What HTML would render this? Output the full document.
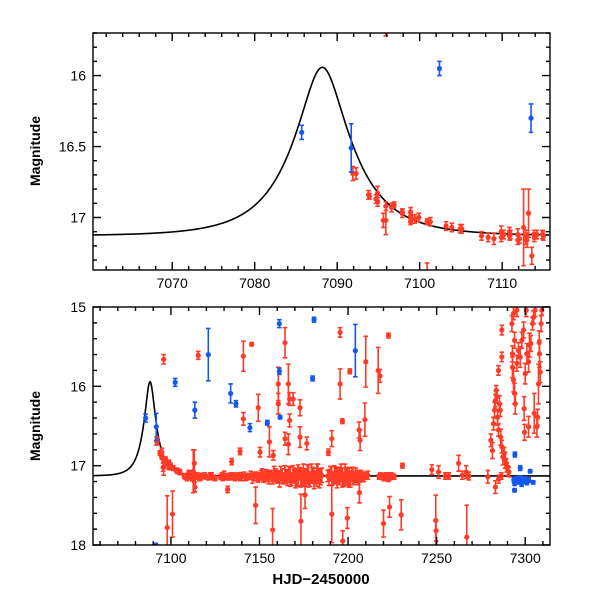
<!DOCTYPE html>
<html><head><meta charset="utf-8"><style>
body{margin:0;background:#fff}
svg text{font-family:"Liberation Sans",sans-serif;font-size:14px;fill:#000}
</style></head><body>
<svg id="chart" width="600" height="600" viewBox="0 0 600 600" xmlns="http://www.w3.org/2000/svg">
<defs>
<clipPath id="clipTop"><rect x="93" y="33" width="457" height="237"/></clipPath>
<clipPath id="clipBot"><rect x="93" y="307" width="457" height="238"/></clipPath>
</defs>
<g id="top"></g>
<g id="bot"></g>
<text transform="translate(40,151) rotate(-90)" text-anchor="middle" style="font-weight:bold">Magnitude</text>
<text transform="translate(40,426) rotate(-90)" text-anchor="middle" style="font-weight:bold">Magnitude</text>
<text x="321" y="584" text-anchor="middle" style="font-size:15px;font-weight:bold">HJD−2450000</text>
</svg>
<script>
// model parameters (Paczynski)
const modelT0 = 7088.2, modelU0 = 0.35, modelTE = 7.0, modelBase = 17.13;
// tick labels
const topXTicks = [7070, 7080, 7090, 7100, 7110];
const topYTicks = [16, 16.5, 17];
const botXTicks = [7100, 7150, 7200, 7250, 7300];
const botYTicks = [15, 16, 17, 18];
// red observations [HJD, mag, err]
const redObs = [
[7091.9,16.69,0.05],[7093.9,16.85,0.02],[7094.9,16.83,0.05],[7094.9,16.89,0.03],[7095.9,16.92,0.03],[7095.9,17.02,0.10],
[7096.9,16.91,0.02],[7097.9,16.96,0.02],[7098.9,16.96,0.03],[7098.9,16.99,0.02],[7098.9,17.03,0.02],[7099.9,17.00,0.03],
[7100.9,17.03,0.02],[7103.9,17.07,0.03],[7104.9,17.08,0.03],[7109.9,17.10,0.04],[7109.9,17.14,0.03],[7110.9,17.10,0.03],
[7110.9,17.13,0.03],[7111.9,17.12,0.04],[7111.9,17.16,0.03],[7112.6,17.07,0.27],[7112.9,17.13,0.04],[7112.9,17.16,0.03],
[7113.9,17.12,0.03],[7113.9,17.14,0.03],[7114.9,17.12,0.03],[7095.9,15.66,0.06],[7097.9,17.78,0.40],[7100.9,17.61,0.29],
[7115.4,15.61,0.05],[7140.9,15.62,0.19],[7145.6,15.47,0.02],[7164.4,15.45,0.19],[7195.5,15.32,0.06],[7222.8,15.36,0.03],
[7201.0,15.81,0.03],[7195.5,15.97,0.19],[7210.0,15.69,0.32],[7217.0,15.80,0.29],[7218.0,15.87,0.08],[7160.6,15.97,0.21],
[7166.3,15.97,0.25],[7167.0,16.16,0.08],[7169.0,16.16,0.08],[7172.9,16.27,0.10],[7149.3,16.27,0.17],[7140.9,16.41,0.08],
[7160.6,16.22,0.13],[7167.0,16.43,0.08],[7164.4,16.66,0.08],[7166.3,16.73,0.13],[7172.9,16.64,0.13],[7155.6,16.70,0.19],
[7176.7,16.72,0.08],[7190.8,16.66,0.10],[7196.8,16.44,0.03],[7206.2,16.55,0.10],[7206.8,16.68,0.13],[7209.5,16.42,0.21],
[7188.9,16.83,0.04],[7139.0,16.82,0.04],[7150.3,16.83,0.06],[7157.8,16.87,0.06],[7134.3,16.95,0.04],[7113.2,16.97,0.17],
[7230.7,17.00,0.03],[7247.3,17.05,0.06],[7262.4,16.97,0.10],[7266.7,17.08,0.08],[7251.1,17.08,0.08],[7254.9,17.13,0.04],
[7113.6,17.27,0.06],[7132.0,17.30,0.04],[7147.8,17.50,0.23],[7157.4,17.81,0.27],[7173.4,17.70,0.34],[7175.7,17.37,0.17],
[7190.8,17.61,0.36],[7197.0,17.95,0.13],[7199.6,17.66,0.13],[7206.4,17.34,0.13],[7220.0,17.73,0.17],[7223.4,17.52,0.13],
[7230.0,17.62,0.19],[7249.5,17.69,0.32],[7249.7,17.82,0.13],[7267.0,17.90,0.40],[7283.2,17.27,0.08],[7278.9,17.14,0.08],
[7092.3,16.69,0.04],[7093.8,16.84,0.03],[7094.7,16.87,0.03],[7095.6,17.02,0.05],[7096.6,16.93,0.03],[7097.9,16.97,0.03],
[7099.4,17.01,0.03],[7101.3,17.03,0.03],[7103.2,17.06,0.03],[7105.1,17.08,0.03],
[7107.5,17.13,0.03],[7109.0,17.15,0.04],[7111.0,17.12,0.03],[7113.0,17.16,0.05],[7115.0,17.13,0.03],[7117.0,17.14,0.04],
[7119.0,17.12,0.03],[7121.0,17.15,0.03],[7123.0,17.13,0.04],[7125.0,17.16,0.03],[7128.0,17.14,0.03],[7130.0,17.12,0.05],
[7132.0,17.15,0.03],[7134.0,17.13,0.04],[7136.0,17.16,0.03],[7138.0,17.12,0.03],[7140.0,17.14,0.05],[7142.0,17.15,0.04],
[7144.0,17.13,0.03],[7146.0,17.16,0.06],[7148.0,17.12,0.04],[7150.0,17.14,0.05],[7151.5,17.10,0.06],[7153.0,17.16,0.04],
[7154.5,17.13,0.07],[7156.0,17.11,0.05],[7157.5,17.17,0.06],[7159.0,17.12,0.08],[7160.5,17.15,0.06],[7162.0,17.10,0.09],
[7163.5,17.16,0.07],[7165.0,17.13,0.08],[7166.5,17.11,0.10],[7168.0,17.17,0.08],[7169.5,17.12,0.09],[7171.0,17.15,0.11],
[7172.5,17.10,0.08],[7174.0,17.16,0.10],[7175.5,17.13,0.09],[7177.0,17.11,0.12],[7178.5,17.17,0.09],[7180.0,17.12,0.10],
[7181.5,17.15,0.08],[7183.0,17.10,0.12],[7184.5,17.14,0.10],[7188.5,17.13,0.07],[7190.0,17.10,0.09],[7191.5,17.16,0.08],
[7193.0,17.12,0.10],[7194.5,17.15,0.09],[7196.0,17.09,0.11],[7197.5,17.17,0.09],[7199.0,17.12,0.10],[7200.5,17.15,0.12],
[7202.0,17.11,0.09],[7203.5,17.16,0.08],[7205.0,17.13,0.07],[7206.5,17.12,0.06],[7208.0,17.15,0.05],[7210.5,17.13,0.04],
[7217.5,17.14,0.03],[7219.0,17.13,0.03],[7220.5,17.15,0.04],[7222.0,17.12,0.03],[7223.5,17.14,0.04],[7225.0,17.13,0.03],
[7108.3,17.14,0.03],[7110.2,17.12,0.03],[7112.1,17.15,0.03],[7114.2,17.12,0.03],[7116.1,17.16,0.03],[7118.2,17.13,0.03],
[7120.1,17.14,0.03],[7122.2,17.12,0.03],[7124.1,17.15,0.03],[7128.9,17.13,0.04],[7129.2,17.16,0.03],[7131.1,17.13,0.03],
[7133.1,17.14,0.04],[7135.2,17.12,0.03],[7137.1,17.14,0.04],[7139.1,17.16,0.03],[7141.1,17.12,0.04],[7143.1,17.14,0.04],
[7145.1,17.12,0.05],[7147.1,17.14,0.05],[7149.1,17.16,0.05],[7150.8,17.12,0.06],[7152.3,17.14,0.07],[7153.8,17.11,0.06],
[7155.3,17.15,0.08],[7156.8,17.13,0.07],[7158.3,17.10,0.09],[7159.8,17.14,0.08],[7161.3,17.17,0.10],[7162.8,17.13,0.09],
[7164.3,17.11,0.11],[7165.8,17.15,0.10],[7167.3,17.14,0.12],[7168.8,17.11,0.11],[7170.3,17.16,0.12],[7171.8,17.12,0.13],
[7173.3,17.15,0.12],[7174.8,17.11,0.13],[7176.3,17.15,0.11],[7177.8,17.13,0.14],[7179.3,17.10,0.12],[7180.8,17.16,0.13],
[7182.3,17.12,0.14],[7183.8,17.16,0.12],[7185.2,17.12,0.09],[7189.2,17.15,0.10],[7190.8,17.13,0.12],[7192.3,17.11,0.11],
[7193.8,17.16,0.12],[7195.3,17.13,0.11],[7196.8,17.15,0.12],[7198.3,17.11,0.13],[7199.8,17.14,0.11],[7201.3,17.17,0.10],
[7202.8,17.13,0.11],[7204.3,17.12,0.09],[7205.8,17.16,0.08],[7207.3,17.13,0.07],[7209.0,17.14,0.06],[7211.2,17.12,0.05],
[7218.2,17.12,0.03],[7219.8,17.15,0.03],[7221.3,17.13,0.04],[7222.8,17.16,0.04],[7224.3,17.12,0.03],[7226.0,17.14,0.03],
[7256.8,17.13,0.04],[7264.5,17.12,0.05],[7268.2,17.13,0.05],[7285.0,17.17,0.05],[7286.5,17.13,0.04],
[7280.6,16.68,0.08],[7281.5,16.81,0.10],[7282.1,16.47,0.08],[7282.7,16.30,0.10],[7283.2,16.18,0.08],[7283.6,16.05,0.06],
[7284.0,16.13,0.08],[7284.4,16.39,0.10],[7284.9,16.55,0.08],[7285.5,16.22,0.10],[7285.9,16.30,0.08],[7286.2,16.64,0.10],
[7286.8,16.76,0.08],[7287.4,16.89,0.10],[7288.1,16.85,0.08],[7288.7,16.93,0.10],[7289.3,16.97,0.06],[7289.6,17.02,0.06],
[7290.2,17.06,0.06],[7290.8,17.08,0.06],[7284.9,15.80,0.06],[7286.8,15.63,0.06],[7286.8,15.29,0.06],[7292.5,15.21,0.10],
[7293.4,15.08,0.08],[7294.0,15.42,0.10],[7292.8,15.59,0.10],[7292.8,15.76,0.13],[7293.4,15.92,0.15],[7294.0,16.09,0.13],
[7294.4,16.22,0.13],[7295.3,15.71,0.10],[7296.2,15.55,0.10],[7297.2,15.63,0.13],[7298.1,15.42,0.10],[7299.1,15.29,0.10],
[7299.4,16.28,0.15],[7300.0,15.84,0.13],[7300.6,15.04,0.08],[7300.9,15.59,0.13],[7301.9,15.69,0.13],[7302.4,15.48,0.15],
[7303.2,15.46,0.10],[7304.1,15.21,0.08],[7304.7,15.13,0.08],[7305.1,16.34,0.25],[7305.6,15.04,0.08],[7306.6,16.51,0.13],
[7307.0,16.39,0.10],[7307.5,15.97,0.25],[7307.9,15.45,0.15],[7308.1,15.59,0.17],[7308.5,15.82,0.13],[7309.0,15.21,0.10],
[7309.4,15.04,0.06],[7301.9,16.51,0.13],[7299.6,16.58,0.10],[7295.3,15.04,0.08]
];
// blue observations [HJD, mag, err]
const blueObs = [
[7085.7,16.40,0.05],[7091.7,16.51,0.17],[7102.4,15.95,0.05],[7113.5,16.30,0.10],[7121.1,15.60,0.33],[7133.7,16.09,0.12],
[7136.7,16.22,0.04],[7144.6,16.52,0.05],[7154.4,16.46,0.03],[7161.2,15.21,0.05],[7161.2,15.81,0.04],[7161.6,16.39,0.02],
[7180.0,15.90,0.03],[7180.8,15.16,0.03],[7204.1,15.55,0.33],[7294.2,16.86,0.03],[7297.2,17.03,0.03],[7302.8,17.07,0.02],
[7294.0,17.31,0.02],[7293.6,17.18,0.03],[7294.0,17.22,0.03],[7295.0,17.17,0.03],[7296.0,17.20,0.03],[7297.0,17.16,0.03],
[7298.0,17.23,0.03],[7299.0,17.19,0.03],[7300.0,17.17,0.03],[7301.0,17.21,0.03],[7302.0,17.18,0.03],[7304.5,17.21,0.02],
[7091.5,18.00,0.02]
];
const NS='http://www.w3.org/2000/svg';
function mk(tag,attrs,parent){const e=document.createElementNS(NS,tag);for(const k in attrs)e.setAttribute(k,attrs[k]);parent.appendChild(e);return e;}
function scale(d0,d1,r0,r1){return v=>r0+(v-d0)*(r1-r0)/(d1-d0);}
function modelMag(t){const u=Math.sqrt(modelU0*modelU0+Math.pow((t-modelT0)/modelTE,2));const A=(u*u+2)/(u*Math.sqrt(u*u+4));return modelBase-2.5*Math.log10(A);}
function panel(g,cfg){
  const X=scale(cfg.xd[0],cfg.xd[1],93,550), Y=scale(cfg.yd[0],cfg.yd[1],cfg.top,cfg.bot);
  const data=mk('g',{'clip-path':'url(#'+cfg.clip+')'},g);
  
  
  let d='';for(let t=cfg.xd[0];t<=cfg.xd[1];t+=0.1){d+=(d?'L':'M')+X(t).toFixed(2)+','+Y(modelMag(t)).toFixed(2);}
  const ml=mk('path',{d:d,fill:'none',stroke:'#000','stroke-width':1.6},data);
  
  
  function series(arr,col,name){
    const sg=mk('g',{},data);
    
    
    arr.forEach(p=>{
      const x=X(p[0]),y1=Y(p[1]-p[2]),y2=Y(p[1]+p[2]),y=Y(p[1]);
      const pt=mk('g',{},sg);
      
      
      mk('path',{d:`M${x},${y1}V${y2}M${x-2.3},${y1}H${x+2.3}M${x-2.3},${y2}H${x+2.3}`,stroke:col,'stroke-width':1.6,fill:'none'},pt);
      mk('circle',{cx:x,cy:y,r:2.6,fill:col},pt);
    });
  }
  series(redObs,'#ff3a26','red-series');
  series(blueObs,'#1558f0','blue-series');
  const ax=mk('g',{stroke:'#000','stroke-width':1.4,fill:'none'},g);
  
  
  mk('rect',{x:93,y:cfg.top,width:457,height:cfg.bot-cfg.top},ax);
  let td='';
  for(let v=Math.ceil(cfg.xd[0]/cfg.xmin)*cfg.xmin;v<=cfg.xd[1];v+=cfg.xmin){
    const major=Math.abs(v/cfg.xmaj-Math.round(v/cfg.xmaj))<1e-6;const L=major?8:4;const x=X(v);
    td+=`M${x},${cfg.bot}v${-L}M${x},${cfg.top}v${L}`;}
  const ymn=Math.round(cfg.yd[0]/cfg.ymin);
  for(let i=ymn;i*cfg.ymin<=cfg.yd[1]+1e-9;i++){const v=i*cfg.ymin;if(v<cfg.yd[0]-1e-9)continue;
    const major=Math.abs(v/cfg.ymaj-Math.round(v/cfg.ymaj))<1e-6;const L=major?8:4;const y=Y(v);
    td+=`M93,${y}h${L}M550,${y}h${-L}`;}
  mk('path',{d:td},ax);
  cfg.xt.forEach(v=>{const t=mk('text',{x:X(v),y:cfg.bot+18,'text-anchor':'middle'},g);t.textContent=v;
    
    });
  cfg.yt.forEach(v=>{const t=mk('text',{x:86,y:Y(v)+5,'text-anchor':'end'},g);t.textContent=v;
    
    });
}
panel(document.getElementById('top'),{xd:[7060.4,7115.8],yd:[15.70,17.37],top:33,bot:270,clip:'clipTop',xmin:2,xmaj:10,ymin:0.1,ymaj:0.5,xt:topXTicks,yt:topYTicks});
panel(document.getElementById('bot'),{xd:[7056,7314],yd:[15,18],top:307,bot:545,clip:'clipBot',xmin:10,xmaj:50,ymin:0.2,ymaj:1,xt:botXTicks,yt:botYTicks});
</script>
</body></html>
